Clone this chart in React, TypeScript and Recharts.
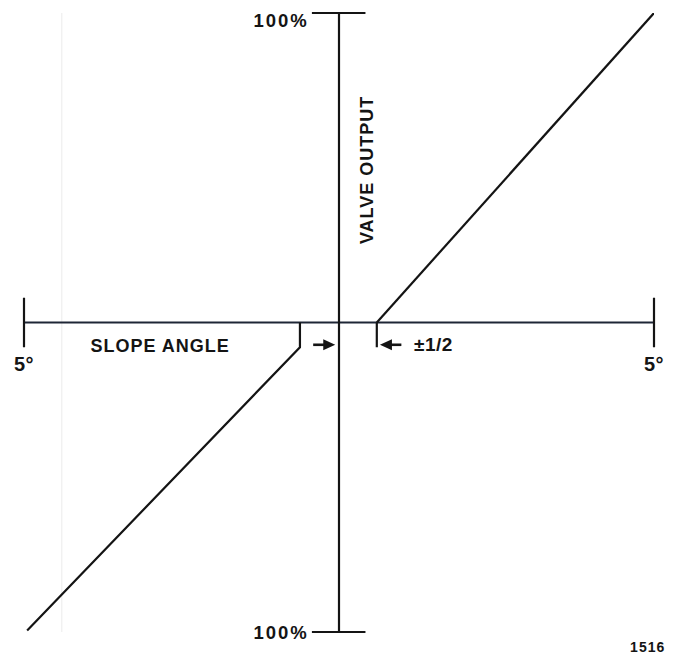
import {
  ComposedChart,
  Line,
  XAxis,
  YAxis,
  ReferenceLine,
  ReferenceDot,
} from 'recharts';

// slope angle in degrees (x), valve output in % (y)
const angleRange = [-5, 5];
const outputRange = [-100, 100];
const deadBand = 0.6;
const dimDrop = -8;

const upperBranch = [
  { x: 0.6, y: 0 },
  { x: 5, y: 100 },
];

const lowerBranch = [
  { x: -0.62, y: 0 },
  { x: -0.62, y: -8 },
  { x: -4.95, y: -99.5 },
];

const tickLabels = ['5°', '5°'];
const outputLabels = ['100%', '100%'];

const INK = '#141414';
const AXIS = '#1e2636';
const FONT = '"Liberation Sans", Arial, Helvetica, sans-serif';

type Pt = { cx?: number; cy?: number };

const textShape =
  (txt: string, anchor: 'start' | 'middle' | 'end', dy = 0, size = 18, spacing = 1, rotate = 0) =>
  (p: Pt) => {
    const cx = p.cx ?? 0;
    const cy = (p.cy ?? 0) + dy;
    return (
      <text
        x={cx}
        y={cy}
        textAnchor={anchor}
        dominantBaseline="central"
        fontFamily={FONT}
        fontWeight="bold"
        fontSize={size}
        letterSpacing={spacing}
        fill={INK}
        transform={rotate ? `rotate(${rotate} ${cx} ${cy})` : undefined}
      >
        {txt}
      </text>
    );
  };

const arrowHead = (dir: 1 | -1) => (p: Pt) => {
  const cx = p.cx ?? 0;
  const cy = p.cy ?? 0;
  const len = 12;
  const half = 5.5;
  return (
    <polygon
      points={`${cx},${cy} ${cx - dir * len},${cy - half} ${cx - dir * len},${cy + half}`}
      fill={INK}
    />
  );
};

export default function App() {
  const [xMin, xMax] = angleRange;
  const [yMin, yMax] = outputRange;
  const arrowY = -7.2;
  return (
    <div style={{ position: 'absolute', left: 0, top: 0, background: '#fff' }}>
      <ComposedChart
        width={674}
        height={654}
        margin={{ top: 13, right: 20, bottom: 22, left: 24 }}
      >
        <XAxis type="number" dataKey="x" domain={angleRange} allowDataOverflow hide />
        <YAxis type="number" dataKey="y" domain={outputRange} allowDataOverflow hide />

        {/* faint scan line */}
        <ReferenceLine x={-4.4} stroke="#ececec" strokeWidth={1} />

        {/* horizontal axis + end ticks */}
        <ReferenceLine segment={[{ x: xMin, y: 0 }, { x: xMax, y: 0 }]} stroke={AXIS} strokeWidth={2.2} />
        <ReferenceLine segment={[{ x: xMin, y: 8 }, { x: xMin, y: -8 }]} stroke={INK} strokeWidth={2.2} />
        <ReferenceLine segment={[{ x: xMax, y: 8 }, { x: xMax, y: -8 }]} stroke={INK} strokeWidth={2.2} />

        {/* vertical axis + caps */}
        <ReferenceLine segment={[{ x: 0, y: yMin }, { x: 0, y: yMax }]} stroke={INK} strokeWidth={2.2} />
        <ReferenceLine segment={[{ x: -0.43, y: yMax }, { x: 0.42, y: yMax }]} stroke={INK} strokeWidth={2.2} />
        <ReferenceLine segment={[{ x: -0.43, y: yMin }, { x: 0.42, y: yMin }]} stroke={INK} strokeWidth={2.2} />

        {/* dead band dimension mark */}
        <ReferenceLine segment={[{ x: deadBand, y: 0 }, { x: deadBand, y: dimDrop }]} stroke={INK} strokeWidth={2.2} />
        <ReferenceLine segment={[{ x: -0.41, y: arrowY }, { x: -0.2, y: arrowY }]} stroke={INK} strokeWidth={2.6} />
        <ReferenceDot x={-0.06} y={arrowY} r={0} shape={arrowHead(1)} />
        <ReferenceLine segment={[{ x: 0.8, y: arrowY }, { x: 0.99, y: arrowY }]} stroke={INK} strokeWidth={2.6} />
        <ReferenceDot x={0.65} y={arrowY} r={0} shape={arrowHead(-1)} />

        <Line
          data={upperBranch}
          dataKey="y"
          stroke={INK}
          strokeWidth={2.2}
          dot={false}
          isAnimationActive={false}
        />
        <Line
          data={lowerBranch}
          dataKey="y"
          stroke={INK}
          strokeWidth={2.2}
          dot={false}
          isAnimationActive={false}
        />

        {/* labels */}
        <ReferenceDot x={-0.48} y={yMax} r={0} shape={textShape(outputLabels[0], 'end', 7, 18.5, 2)} />
        <ReferenceDot x={-0.48} y={yMin} r={0} shape={textShape(outputLabels[1], 'end', 0, 18.5, 2)} />
        <ReferenceDot x={0.44} y={49.3} r={0} shape={textShape('VALVE OUTPUT', 'middle', 0, 18, 1, -90)} />
        <ReferenceDot x={-2.84} y={-7.6} r={0} shape={textShape('SLOPE ANGLE', 'middle', 0, 18, 1)} />
        <ReferenceDot x={xMin} y={-13.4} r={0} shape={textShape(tickLabels[0], 'middle', 0, 20, 0.5)} />
        <ReferenceDot x={xMax} y={-13.4} r={0} shape={textShape(tickLabels[1], 'middle', 0, 20, 0.5)} />
        <ReferenceDot x={1.19} y={-7} r={0} shape={textShape('±1/2', 'start', 0, 19, 0.5)} />
        <ReferenceDot
          x={4.9}
          y={-104.8}
          r={0}
          ifOverflow="visible"
          shape={textShape('1516', 'middle', 0, 14, 1)}
        />
      </ComposedChart>
    </div>
  );
}
